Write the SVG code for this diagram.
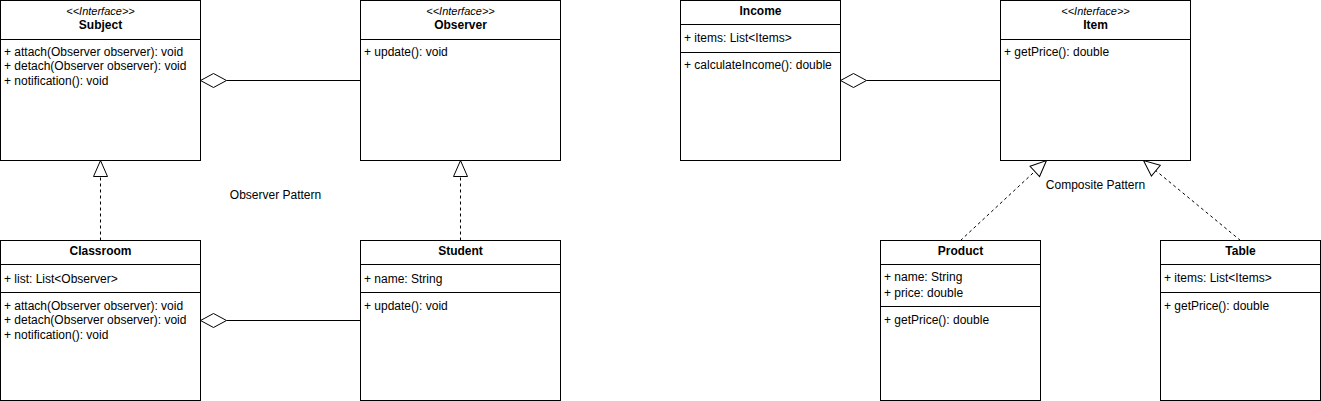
<svg xmlns="http://www.w3.org/2000/svg" width="1321" height="401" viewBox="0 0 1321 401">
<style>
text{font-family:"Liberation Sans",Arial,sans-serif;font-size:12px;fill:#000}
.t{font-weight:bold;text-anchor:middle}
.s{font-style:italic;text-anchor:middle;font-size:11px}
.c{text-anchor:middle}
.box{fill:#fff;stroke:#000;stroke-width:1}
.ln{stroke:#000;stroke-width:1;fill:none}
.dash{stroke:#000;stroke-width:1;fill:none;stroke-dasharray:3 3}
.dia{fill:#fff;stroke:#000;stroke-width:1}
</style>
<defs>
<marker id="real" markerUnits="userSpaceOnUse" markerWidth="18" markerHeight="18" refX="16" refY="7" orient="auto" viewBox="-1 -1 18 16">
<path d="M0,0 L16,7 L0,14 Z" fill="#fff" stroke="#000" stroke-width="1"/>
</marker>
</defs>
<rect width="1321" height="401" fill="#fff"/>
<g id="connectors">
<line class="ln" x1="226.5" y1="80.5" x2="360.5" y2="80.5"/>
<polygon class="dia" points="200.5,80.5 213.5,73.5 226.5,80.5 213.5,87.5"/>
<line class="ln" x1="226.5" y1="320.5" x2="360.5" y2="320.5"/>
<polygon class="dia" points="200.5,320.5 213.5,313.5 226.5,320.5 213.5,327.5"/>
<line class="dash" x1="100.5" y1="240.5" x2="100.5" y2="160.5" marker-end="url(#real)"/>
<line class="dash" x1="460.5" y1="240.5" x2="460.5" y2="160.5" marker-end="url(#real)"/>
<line class="ln" x1="866.5" y1="80.5" x2="1000.5" y2="80.5"/>
<polygon class="dia" points="840.5,80.5 853.5,73.5 866.5,80.5 853.5,87.5"/>
<line class="dash" x1="960.5" y1="240.5" x2="1046.5" y2="160.5" marker-end="url(#real)"/>
<line class="dash" x1="1240.5" y1="240.5" x2="1143.5" y2="160.5" marker-end="url(#real)"/>
</g>
<g id="subject">
<rect class="box" x="0.5" y="0.5" width="200" height="160"/>
<line class="ln" x1="0.5" y1="39.5" x2="200.5" y2="39.5"/>
<text class="s" x="100.5" y="15">&lt;&lt;Interface&gt;&gt;</text>
<text class="t" x="100.5" y="29">Subject</text>
<text x="4" y="56">+ attach(Observer observer): void</text>
<text x="4" y="70">+ detach(Observer observer): void</text>
<text x="4" y="85">+ notification(): void</text>
</g>
<g id="observer">
<rect class="box" x="360.5" y="0.5" width="200" height="160"/>
<line class="ln" x1="360.5" y1="39.5" x2="560.5" y2="39.5"/>
<text class="s" x="460.5" y="15">&lt;&lt;Interface&gt;&gt;</text>
<text class="t" x="460.5" y="29">Observer</text>
<text x="364" y="56">+ update(): void</text>
</g>
<g id="classroom">
<rect class="box" x="0.5" y="240.5" width="200" height="160"/>
<line class="ln" x1="0.5" y1="264.5" x2="200.5" y2="264.5"/>
<line class="ln" x1="0.5" y1="292.5" x2="200.5" y2="292.5"/>
<text class="t" x="100.5" y="255">Classroom</text>
<text x="4" y="283">+ list: List&lt;Observer&gt;</text>
<text x="4" y="310">+ attach(Observer observer): void</text>
<text x="4" y="324">+ detach(Observer observer): void</text>
<text x="4" y="339">+ notification(): void</text>
</g>
<g id="student">
<rect class="box" x="360.5" y="240.5" width="200" height="160"/>
<line class="ln" x1="360.5" y1="264.5" x2="560.5" y2="264.5"/>
<line class="ln" x1="360.5" y1="292.5" x2="560.5" y2="292.5"/>
<text class="t" x="460.5" y="255">Student</text>
<text x="364" y="283">+ name: String</text>
<text x="364" y="310">+ update(): void</text>
</g>
<g id="observer-pattern-label">
<text class="c" x="275.5" y="199">Observer Pattern</text>
</g>
<g id="income">
<rect class="box" x="680.5" y="0.5" width="160" height="160"/>
<line class="ln" x1="680.5" y1="24.5" x2="840.5" y2="24.5"/>
<line class="ln" x1="680.5" y1="52.5" x2="840.5" y2="52.5"/>
<text class="t" x="760.5" y="15">Income</text>
<text x="684" y="42">+ items: List&lt;Items&gt;</text>
<text x="684" y="69">+ calculateIncome(): double</text>
</g>
<g id="item">
<rect class="box" x="1000.5" y="0.5" width="190" height="160"/>
<line class="ln" x1="1000.5" y1="39.5" x2="1190.5" y2="39.5"/>
<text class="s" x="1095.5" y="15">&lt;&lt;Interface&gt;&gt;</text>
<text class="t" x="1095.5" y="29">Item</text>
<text x="1004" y="56">+ getPrice(): double</text>
</g>
<g id="product">
<rect class="box" x="880.5" y="240.5" width="160" height="160"/>
<line class="ln" x1="880.5" y1="264.5" x2="1040.5" y2="264.5"/>
<line class="ln" x1="880.5" y1="306.5" x2="1040.5" y2="306.5"/>
<text class="t" x="960.5" y="255">Product</text>
<text x="884" y="281">+ name: String</text>
<text x="884" y="297">+ price: double</text>
<text x="884" y="324">+ getPrice(): double</text>
</g>
<g id="table">
<rect class="box" x="1160.5" y="240.5" width="160" height="160"/>
<line class="ln" x1="1160.5" y1="264.5" x2="1320.5" y2="264.5"/>
<line class="ln" x1="1160.5" y1="292.5" x2="1320.5" y2="292.5"/>
<text class="t" x="1240.5" y="255">Table</text>
<text x="1164" y="282">+ items: List&lt;Items&gt;</text>
<text x="1164" y="310">+ getPrice(): double</text>
</g>
<g id="composite-pattern-label">
<text class="c" x="1095.5" y="189">Composite Pattern</text>
</g>
</svg>
